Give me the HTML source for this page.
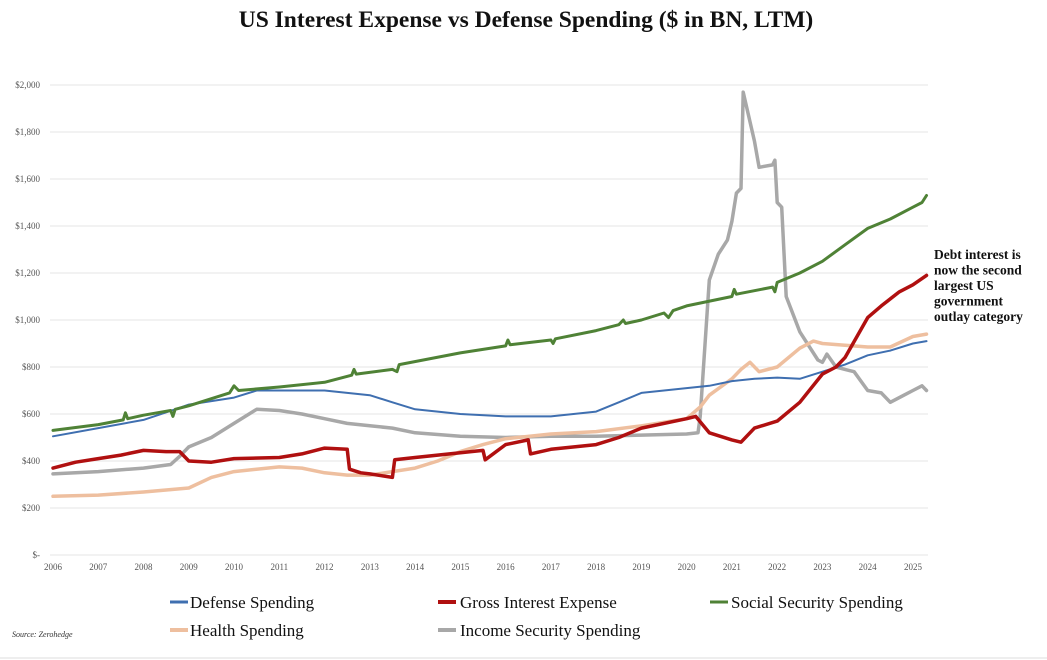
<!DOCTYPE html>
<html><head><meta charset="utf-8"><style>
body{margin:0;background:#fff;}
svg{display:block;font-family:"Liberation Serif",serif;}
</style></head><body>
<svg id="c" width="1047" height="660" viewBox="0 0 1047 660" xmlns="http://www.w3.org/2000/svg">
<rect width="1047" height="660" fill="#fff"/>
<text x="526" y="27" text-anchor="middle" font-size="23.5" font-weight="bold" fill="#111">US Interest Expense vs Defense Spending ($ in BN, LTM)</text>
<g id="grid"></g>
<g id="series" fill="none" stroke-linejoin="round" stroke-linecap="round"></g>
<g font-size="13.5" font-weight="bold" fill="#111">
<text x="934" y="259">Debt interest is</text>
<text x="934" y="274.5">now the second</text>
<text x="934" y="290">largest US</text>
<text x="934" y="305.5">government</text>
<text x="934" y="321">outlay category</text>
</g>
<g font-size="17" fill="#111">
<line x1="170" y1="602" x2="188" y2="602" stroke="#3f6fb0" stroke-width="3"/><text x="190" y="608">Defense Spending</text>
<line x1="438" y1="602" x2="456" y2="602" stroke="#b01010" stroke-width="4"/><text x="460" y="608">Gross Interest Expense</text>
<line x1="710" y1="602" x2="728" y2="602" stroke="#4f8236" stroke-width="3"/><text x="731" y="608">Social Security Spending</text>
<line x1="170" y1="630" x2="188" y2="630" stroke="#eebf9f" stroke-width="4"/><text x="190" y="636">Health Spending</text>
<line x1="438" y1="630" x2="456" y2="630" stroke="#a8a8a8" stroke-width="4"/><text x="460" y="636">Income Security Spending</text>
</g>
<text x="12" y="637" font-size="8" font-style="italic" fill="#333">Source: Zerohedge</text>
<line x1="0" y1="658" x2="1047" y2="658" stroke="#ddd" stroke-width="1"/>
</svg>
<script>
var X=function(t){return 53+45.26*(t-2006)},Y=function(v){return 555-v*0.235};
var ns="http://www.w3.org/2000/svg",g=document.getElementById("grid"),s=document.getElementById("series");
function el(p,tag,a,txt){var e=document.createElementNS(ns,tag);for(var k in a)e.setAttribute(k,a[k]);if(txt)e.textContent=txt;p.appendChild(e);return e;}
for(var v=0;v<=2000;v+=200){var y=Y(v);el(g,"line",{x1:50,x2:928,y1:y,y2:y,stroke:"#e6e6e6","stroke-width":1});
el(g,"text",{x:40,y:y+3,"text-anchor":"end","font-size":"9",fill:"#555"},v==0?"$-":"$"+v.toLocaleString("en-US"));}
for(var t=2006;t<=2025;t++){el(g,"text",{x:X(t),y:570,"text-anchor":"middle","font-size":"9",fill:"#555"},""+t);}
function P(d,c,w){var p="";for(var i=0;i<d.length;i+=2)p+=(i?"L":"M")+X(d[i]).toFixed(1)+","+Y(d[i+1]).toFixed(1);el(s,"path",{d:p,stroke:c,"stroke-width":w});}
P([2006,345,2007,355,2008,370,2008.6,385,2008.8,420,2009,460,2009.5,500,2010,560,2010.5,620,2011,615,2011.5,600,2012,580,2012.5,560,2013,550,2013.5,540,2014,520,2015,505,2016,500,2017,505,2018,505,2019,510,2020,515,2020.25,520,2020.3,590,2020.5,1170,2020.7,1280,2020.9,1340,2021,1420,2021.1,1540,2021.2,1560,2021.25,1970,2021.5,1760,2021.6,1650,2021.9,1660,2021.95,1680,2022,1500,2022.1,1480,2022.2,1100,2022.5,950,2022.9,830,2023,820,2023.1,855,2023.3,800,2023.5,790,2023.7,780,2024,700,2024.3,690,2024.5,650,2024.8,680,2025,700,2025.2,720,2025.3,700],"#a8a8a8",3.5);
P([2006,250,2007,255,2008,268,2009,285,2009.5,330,2010,355,2011,375,2011.5,370,2012,350,2012.5,340,2013,340,2014,370,2014.5,400,2015,440,2015.5,470,2016,495,2017,515,2018,525,2019,550,2020,580,2020.3,630,2020.5,680,2021,750,2021.2,790,2021.4,820,2021.6,780,2022,800,2022.5,880,2022.8,910,2023,900,2024,885,2024.5,885,2025,930,2025.3,940],"#eebf9f",3.5);
P([2006,505,2007,540,2008,575,2008.7,620,2009,640,2010,670,2010.5,700,2011,700,2012,700,2012.5,690,2013,680,2013.5,650,2014,620,2015,600,2016,590,2017,590,2018,610,2018.5,650,2019,690,2020,710,2020.5,720,2021,740,2021.5,750,2022,755,2022.5,750,2023,780,2023.5,810,2024,850,2024.5,870,2025,900,2025.3,910],"#3f6fb0",2);
P([2006,530,2007,555,2007.55,575,2007.6,605,2007.65,580,2008,595,2008.6,615,2008.65,590,2008.7,620,2009,635,2009.9,690,2010,720,2010.1,700,2011,715,2012,735,2012.6,765,2012.65,790,2012.7,770,2013.5,790,2013.6,780,2013.65,810,2015,860,2016,890,2016.05,915,2016.1,895,2017,915,2017.05,900,2017.1,920,2018,955,2018.5,980,2018.6,1000,2018.65,985,2019,1000,2019.5,1030,2019.6,1010,2019.7,1040,2020,1060,2021,1100,2021.05,1130,2021.1,1110,2021.9,1140,2021.95,1120,2022,1160,2022.5,1200,2023,1250,2023.5,1320,2024,1390,2024.5,1430,2025,1480,2025.2,1500,2025.3,1530],"#4f8236",3);
P([2006,370,2006.5,395,2007,410,2007.5,425,2008,445,2008.5,440,2008.8,440,2009,400,2009.5,395,2010,410,2011,415,2011.5,430,2012,455,2012.5,450,2012.55,365,2012.8,350,2013,345,2013.5,330,2013.55,405,2014,415,2015,435,2015.5,445,2015.55,405,2016,470,2016.5,490,2016.55,430,2017,450,2018,470,2018.5,500,2019,540,2020,580,2020.2,590,2020.5,520,2021,490,2021.2,480,2021.5,540,2022,570,2022.5,650,2023,770,2023.3,800,2023.5,840,2024,1010,2024.3,1060,2024.7,1120,2025,1150,2025.3,1190],"#b01010",3.5);
</script>
</body></html>
